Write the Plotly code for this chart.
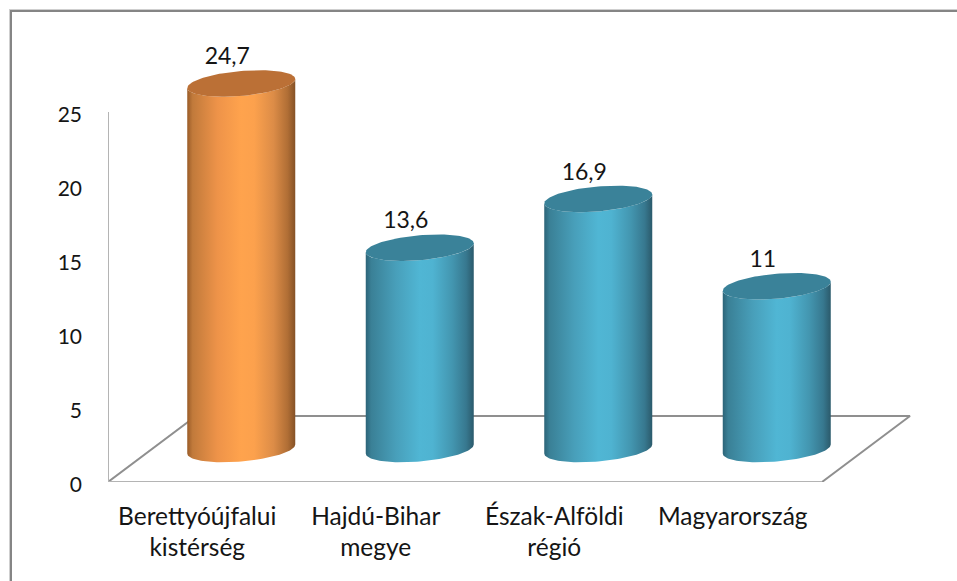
import numpy as np
import plotly.graph_objects as go

categories = ["Berettyóújfalui<br>kistérség", "Hajdú-Bihar<br>megye", "Észak-Alföldi<br>régió", "Magyarország"]
values = [24.7, 13.6, 16.9, 11]
y_ticks = [0, 5, 10, 15, 20, 25]

W, H = 957, 581
LEFT, BOTTOM, TOP = 108, 99, 12
PX_X = 178.5   # px per category
PX_Y = 14.8    # px per y unit
px = lambda n: n / PX_X
py = lambda n: n / PX_Y
x_rng = [-0.5, -0.5 + (W - LEFT) / PX_X]
y_rng = [0, (H - BOTTOM - TOP) / PX_Y]

AXIS_END = 25
DEPTH_X, DEPTH_Y = px(88), py(66)
HALF_W, ELL_H, SHEAR = px(54), py(12.5), py(4.5)
FONT = "Lato"
TXT = "#151515"

ORANGE = dict(body=[[0, "#9a5c28"], [0.05, "#c17a3b"], [0.28, "#ee9349"], [0.5, "#ffa34d"], [0.62, "#fca14d"], [0.8, "#dc8c47"], [0.93, "#b06e35"], [1, "#855126"]], top="#bb7036")
BLUE = dict(body=[[0, "#2c6478"], [0.05, "#3a8096"], [0.28, "#489fba"], [0.5, "#50b6d4"], [0.62, "#4fb3d1"], [0.8, "#4396b0"], [0.93, "#37788f"], [1, "#2b5a6b"]], top="#3a8299")
styles = [ORANGE, BLUE, BLUE, BLUE]

fig = go.Figure()


def line(xs, ys, color, width):
    fig.add_trace(go.Scatter(x=xs, y=ys, mode="lines", line=dict(color=color, width=width), hoverinfo="skip", showlegend=False))


xl, xr = -0.5, 3.5
line([xl, xl + DEPTH_X, xr + DEPTH_X, xr], [0, DEPTH_Y, DEPTH_Y, 0], "#8f8f8f", 2)
line([xr, xl, xl], [0, 0, AXIS_END], "#b4b4b4", 2)

t = np.linspace(0, 2 * np.pi, 121)
half = np.linspace(np.pi, 2 * np.pi, 61)
for i, (v, st) in enumerate(zip(values, styles)):
    cx = i + DEPTH_X / 2
    base = DEPTH_Y / 2
    top = base + v
    arc_x = cx + HALF_W * np.cos(half)
    bottom_y = base + ELL_H * np.sin(half) + SHEAR * np.cos(half)
    top_y = top + ELL_H * np.sin(half[::-1]) + SHEAR * np.cos(half[::-1])
    fig.add_trace(go.Scatter(
        x=np.r_[arc_x, arc_x[::-1], arc_x[0]], y=np.r_[bottom_y, top_y, bottom_y[0]],
        mode="lines", line=dict(width=0), fill="toself", hoverinfo="skip", showlegend=False,
        fillgradient=dict(type="horizontal", colorscale=st["body"], start=cx - HALF_W, stop=cx + HALF_W)))
    fig.add_trace(go.Scatter(
        x=cx + HALF_W * np.cos(t), y=top + ELL_H * np.sin(t) + SHEAR * np.cos(t),
        mode="lines", line=dict(width=0), fill="toself", fillcolor=st["top"], hoverinfo="skip", showlegend=False))

fig.add_trace(go.Scatter(
    x=[i + DEPTH_X / 2 - px(14) for i in range(len(values))],
    y=[DEPTH_Y / 2 + v + py(25) for v in values],
    mode="text", text=[str(v).replace(".", ",") for v in values],
    textposition="middle center", textfont=dict(family=FONT, size=23, color=TXT),
    hoverinfo="skip", showlegend=False))

fx = lambda n: (n - LEFT) / (W - LEFT)
fy = lambda n: 1 - (n - TOP) / (H - BOTTOM - TOP)
border = [
    dict(x0=fx(9.5), x1=fx(9.5), y0=fy(9), y1=fy(H), color="#cfcfcf", width=1),
    dict(x0=fx(11), x1=fx(11), y0=fy(10), y1=fy(H), color="#858585", width=2),
    dict(x0=fx(9), x1=fx(W), y0=fy(9.5), y1=fy(9.5), color="#cfcfcf", width=1),
    dict(x0=fx(10), x1=fx(W), y0=fy(11), y1=fy(11), color="#858585", width=2),
]

fig.update_layout(
    width=W, height=H, autosize=False,
    margin=dict(l=LEFT, r=0, t=TOP, b=BOTTOM),
    paper_bgcolor="white", plot_bgcolor="white", showlegend=False,
    xaxis=dict(range=x_rng, tickvals=list(range(len(categories))), ticktext=categories,
               showgrid=False, zeroline=False, showline=False, ticks="",
               tickfont=dict(family=FONT, size=24.5, color=TXT), ticklabelstandoff=17),
    yaxis=dict(range=y_rng, tickvals=y_ticks, showgrid=False, zeroline=False, showline=False,
               ticks="", tickfont=dict(family=FONT, size=21, color=TXT), ticklabelstandoff=25,
               ticklabelshift=3),
    shapes=[dict(type="line", xref="paper", yref="paper", x0=b["x0"], x1=b["x1"], y0=b["y0"], y1=b["y1"],
                 line=dict(color=b["color"], width=b["width"]), layer="above") for b in border],
)
fig.write_html("out.html", post_script="document.body.style.margin='0';", config=dict(displayModeBar=False))
